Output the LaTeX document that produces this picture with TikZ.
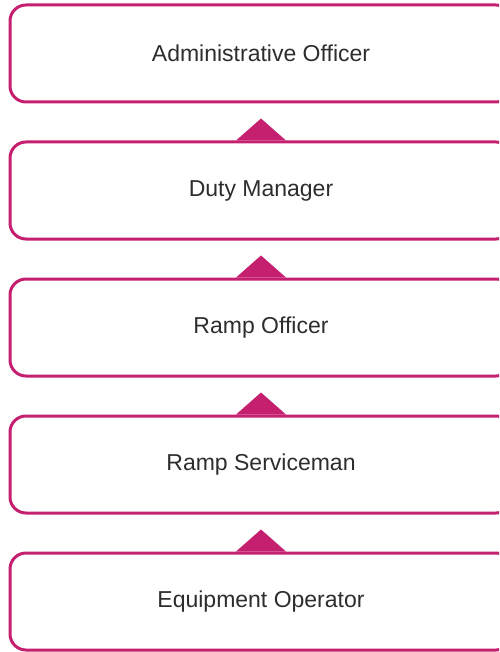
\documentclass[tikz,border=0pt]{standalone}
\usepackage{fontspec}
\setmainfont{Liberation Sans}
\usetikzlibrary{calc}
\definecolor{rankpink}{RGB}{197,32,112}
\definecolor{labelgrey}{RGB}{45,45,45}

\begin{document}
\begin{tikzpicture}[x=1pt, y=-1pt,
  rankbox/.style={draw=rankpink, line width=3pt, rounded corners=16pt, minimum width=502pt, minimum height=97pt, text=labelgrey, font=\fontsize{23}{28}\selectfont}]
  \useasboundingbox (0,0) rectangle (499,652);
  \clip (0,0) rectangle (499,652);
  % ranks, top to bottom
  \foreach \i/\name/\txt in {0/admin/Administrative Officer, 1/duty/Duty Manager, 2/ramp/Ramp Officer, 3/serv/Ramp Serviceman, 4/equip/Equipment Operator} {
    \node[rankbox] (\name) at (261, 53.5+137*\i) {\txt};
  }
  % little arrows between ranks
  \foreach \name in {duty, ramp, serv, equip} {
    \fill[rankpink] ($(\name.north)+(-25,0)$) -- ($(\name.north)+(0,-22)$) -- ($(\name.north)+(25,0)$) -- cycle;
  }
\end{tikzpicture}
\end{document}
